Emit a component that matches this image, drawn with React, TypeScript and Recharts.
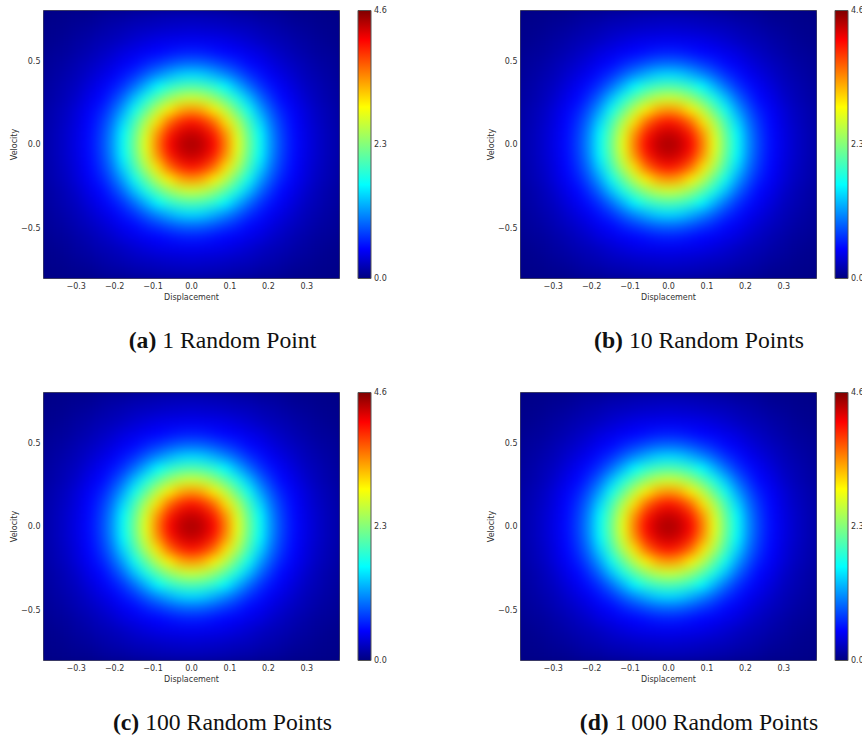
import { Bar, BarChart, ReferenceArea, Scatter, ScatterChart, XAxis, YAxis } from "recharts";

// centre of each heat cell, from the origin outwards
const xStops = [0, 0.03, 0.06, 0.09, 0.12, 0.15, 0.18, 0.21, 0.24, 0.27, 0.3, 0.33, 0.36, 0.39];
const yStops = [0, 0.07, 0.14, 0.21, 0.28, 0.35, 0.42, 0.49, 0.56, 0.63, 0.7, 0.77];

// density * 100, one quadrant (rows = yStops, columns = xStops)
const density = [
    [445, 435, 410, 355, 285, 220, 165, 112, 76, 54, 41, 30, 22, 16],
    [433, 424, 396, 342, 276, 214, 160, 109, 74, 53, 40, 30, 22, 16],
    [403, 391, 360, 308, 254, 196, 145, 99, 69, 51, 38, 28, 21, 15],
    [343, 332, 302, 261, 214, 169, 122, 86, 61, 47, 36, 26, 20, 14],
    [270, 262, 241, 209, 175, 135, 98, 70, 52, 42, 31, 23, 17, 13],
    [204, 198, 184, 161, 130, 100, 74, 57, 45, 36, 27, 21, 16, 12],
    [146, 141, 128, 111, 92, 72, 58, 46, 38, 30, 23, 18, 14, 10],
    [96, 93, 85, 74, 64, 53, 46, 38, 31, 25, 20, 15, 12, 9],
    [62, 60, 56, 51, 47, 42, 37, 30, 25, 20, 16, 12, 10, 7],
    [44, 43, 42, 40, 36, 32, 27, 23, 20, 16, 13, 10, 7, 6],
    [32, 31, 30, 28, 26, 24, 21, 18, 15, 12, 10, 7, 6, 5],
    [22, 22, 21, 20, 18, 17, 14, 13, 11, 8, 7, 6, 5, 4],
];

const xTicks = [-0.3, -0.2, -0.1, 0, 0.1, 0.2, 0.3];
const yTicks = [-0.5, 0, 0.5];
const barTicks = [0, 2.3, 4.6];
const maxDensity = 4.6;

const captions = [
    { tag: "(a)", text: " 1 Random Point" },
    { tag: "(b)", text: " 10 Random Points" },
    { tag: "(c)", text: " 100 Random Points" },
    { tag: "(d)", text: " 1\u2009000 Random Points" },
];

const jet = [
    { at: 0, rgb: [0, 0, 127] },
    { at: 0.11, rgb: [0, 0, 255] },
    { at: 0.35, rgb: [0, 255, 255] },
    { at: 0.64, rgb: [255, 255, 0] },
    { at: 0.89, rgb: [255, 0, 0] },
    { at: 1, rgb: [127, 0, 0] },
];

const cells: { x: number; y: number; v: number }[] = [];
density.forEach((row, j) => {
    row.forEach((v, i) => {
        for (const sx of i === 0 ? [1] : [-1, 1]) {
            for (const sy of j === 0 ? [1] : [-1, 1]) {
                cells.push({ x: sx * xStops[i], y: sy * yStops[j], v: v / 100 });
            }
        }
    });
});

function jetColor(v: number) {
    const t = Math.min(1, v / maxDensity);
    let k = 0;
    while (k < jet.length - 2 && t > jet[k + 1].at) k++;
    const a = jet[k];
    const b = jet[k + 1];
    const f = (t - a.at) / (b.at - a.at);
    const c = a.rgb.map((n, m) => Math.round(n + (b.rgb[m] - n) * f));
    return `rgb(${c[0]},${c[1]},${c[2]})`;
}

const fmt = (n: number) => n.toFixed(1).replace("-", "\u2212");
const tickStyle = { fontSize: 8, fontFamily: "DejaVu Sans", fill: "#333" };
const labelStyle = { fontSize: 8, fontFamily: "DejaVu Sans", fill: "#333" };

function HeatCell(props: any) {
    return <rect x={props.cx - 6.5} y={props.cy - 6.5} width={13} height={13} fill={jetColor(props.payload.v)} />;
}

function Panel({ left, top, caption }: { left: number; top: number; caption: { tag: string; text: string } }) {
    return (
        <div style={{ position: "absolute", left, top, width: 400, height: 360 }}>
            <div className="heat" style={{ position: "absolute", left: 0, top: 0 }}>
                <ScatterChart width={342} height={310} margin={{ top: 10.5, right: 2.5, bottom: 1.5, left: 13 }}>
                    <XAxis
                        type="number"
                        dataKey="x"
                        domain={[-0.385, 0.385]}
                        ticks={xTicks}
                        tickFormatter={fmt}
                        allowDataOverflow
                        height={30}
                        tick={tickStyle}
                        axisLine={false}
                        tickLine={false}
                        tickSize={0}
                        tickMargin={5}
                        label={{ value: "Displacement", position: "insideBottom", offset: 9, style: labelStyle }}
                    />
                    <YAxis
                        type="number"
                        dataKey="y"
                        domain={[-0.8, 0.8]}
                        ticks={yTicks}
                        tickFormatter={fmt}
                        allowDataOverflow
                        width={30.5}
                        tick={tickStyle}
                        axisLine={false}
                        tickLine={false}
                        tickSize={0}
                        tickMargin={3}
                        label={{ value: "Velocity", angle: -90, position: "insideLeft", offset: 0, dx: 1, style: { ...labelStyle, textAnchor: "middle" } }}
                    />
                    <ReferenceArea x1={-0.385} x2={0.385} y1={-0.8} y2={0.8} fill="#00007f" fillOpacity={1} stroke="none" />
                    <Scatter data={cells} shape={HeatCell} isAnimationActive={false} />
                    <ReferenceArea x1={-0.385} x2={0.385} y1={-0.8} y2={0.8} fill="none" stroke="#555" strokeWidth={1} />
                </ScatterChart>
            </div>
            <div style={{ position: "absolute", left: 345, top: 0 }}>
                <BarChart
                    width={44}
                    height={290}
                    data={[{ name: "scale", top: maxDensity }]}
                    margin={{ top: 10.5, right: 0, bottom: 11.5, left: 13 }}
                    barCategoryGap={0}
                >
                    <defs>
                        <linearGradient id={`jet-${left}-${top}`} x1="0" y1="1" x2="0" y2="0">
                            {jet.map((s) => (
                                <stop key={s.at} offset={s.at} stopColor={`rgb(${s.rgb.join(",")})`} />
                            ))}
                        </linearGradient>
                    </defs>
                    <XAxis dataKey="name" hide />
                    <YAxis
                        orientation="right"
                        type="number"
                        domain={[0, maxDensity]}
                        ticks={barTicks}
                        tickFormatter={fmt}
                        width={18}
                        tick={tickStyle}
                        axisLine={false}
                        tickLine={false}
                        tickSize={0}
                        tickMargin={3}
                    />
                    <Bar dataKey="top" fill={`url(#jet-${left}-${top})`} stroke="#555" isAnimationActive={false} />
                </BarChart>
            </div>
            <div
                style={{
                    position: "absolute",
                    left: 0,
                    width: 445,
                    top: 326,
                    textAlign: "center",
                    fontFamily: "Liberation Serif",
                    fontSize: 23.7,
                    lineHeight: "28px",
                    color: "#111",
                    whiteSpace: "pre",
                }}
            >
                <b>{caption.tag}</b>
                {caption.text}
            </div>
        </div>
    );
}

export default function App() {
    return (
        <div style={{ position: "absolute", left: 0, top: 0, width: 862, height: 735, background: "#fff", overflow: "hidden" }}>
            <style>{`.heat .recharts-scatter { filter: url(#soft); }`}</style>
            <svg width={0} height={0} style={{ position: "absolute" }}>
                <defs>
                    <filter id="soft" filterUnits="userSpaceOnUse" x={43.5} y={10.5} width={296} height={268} colorInterpolationFilters="sRGB">
                        <feGaussianBlur stdDeviation={5.5} />
                    </filter>
                </defs>
            </svg>
            <Panel left={0} top={0} caption={captions[0]} />
            <Panel left={476.5} top={0} caption={captions[1]} />
            <Panel left={0} top={382} caption={captions[2]} />
            <Panel left={476.5} top={382} caption={captions[3]} />
        </div>
    );
}
